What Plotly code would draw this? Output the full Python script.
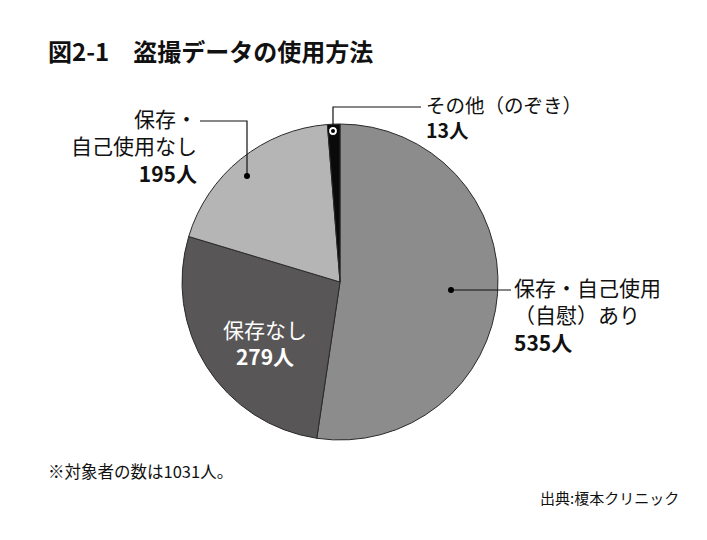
import plotly.graph_objects as go

categories = ["保存・自己使用（自慰）あり", "保存なし", "保存・自己使用なし", "その他（のぞき）"]
values = [535, 279, 195, 13]
colors = ["#8c8c8c", "#585656", "#b5b5b5", "#0a0a0a"]
total = 1031

W, H = 707, 540
OFF = 8  # page body margin
FONT = "Noto Sans CJK JP"

fig = go.Figure()
fig.add_trace(go.Pie(
    labels=categories, values=values, sort=False, direction="clockwise", rotation=0,
    marker=dict(colors=colors, line=dict(color="#2a2a2a", width=1)),
    textinfo="none", hoverinfo="label+value", showlegend=False,
    domain=dict(x=[(182 - OFF) / W, (498 - OFF) / W], y=[1 - (440 - OFF) / H, 1 - (124 - OFF) / H]),
))

# hidden pixel axes for leader lines
fig.add_trace(go.Scatter(x=[0], y=[0], mode="markers", marker=dict(opacity=0), showlegend=False, hoverinfo="skip"))

shapes = []
def line(pts):
    path = "M " + " L ".join(f"{x - OFF},{y - OFF}" for x, y in pts)
    shapes.append(dict(type="path", path=path, xref="x", yref="y", line=dict(color="#111", width=1.2)))
def dot(x, y, r, fill, lc=None, lw=0):
    x -= OFF; y -= OFF
    shapes.append(dict(type="circle", xref="x", yref="y", x0=x - r, x1=x + r, y0=y - r, y1=y + r,
                       fillcolor=fill, line=dict(color=lc or fill, width=lw)))

line([(333, 131), (333, 107), (421, 107)])
dot(333, 131, 4.5, "white", "black", 1.2)
dot(333, 131, 2, "black")
line([(247, 176), (247, 121), (200, 121)])
dot(247, 176, 3, "black")
line([(451, 290), (511, 290)])
dot(451, 290, 3, "black")

ann = []
def txt(x, y, s, size=21, anchor="left", color="#111", bold=False):
    if bold:
        s = f"<b>{s}</b>"
    ann.append(dict(x=x - OFF, y=y - OFF, xref="x", yref="y", text=s, showarrow=False, xanchor=anchor,
                    yanchor="middle", align=anchor if anchor != "center" else "center",
                    font=dict(family=FONT, size=size, color=color)))

txt(46, 50, "図2-1　盗撮データの使用方法", size=24, bold=True)
txt(424, 117, f"その他（のぞき）<br><b>{values[3]}人</b>", size=19.5)
txt(199, 145, f"保存・<br>自己使用なし<br><b>{values[2]}人</b>", anchor="right")
txt(512, 314, f"保存・自己使用<br>（自慰）あり<br><b>{values[0]}人</b>")
txt(265, 342, f"保存なし<br><b>{values[1]}人</b>", anchor="center", color="white")
txt(46, 471, f"※対象者の数は{total}人。", size=16.5)
txt(681, 497, "出典:榎本クリニック", size=15, anchor="right")

fig.update_layout(
    width=W, height=H, margin=dict(l=0, r=0, t=0, b=0),
    paper_bgcolor="white", plot_bgcolor="rgba(0,0,0,0)",
    xaxis=dict(range=[0, W], visible=False, fixedrange=True),
    yaxis=dict(range=[H, 0], visible=False, fixedrange=True),
    shapes=shapes, annotations=ann, font=dict(family=FONT),
)
fig.write_html("out.html")
